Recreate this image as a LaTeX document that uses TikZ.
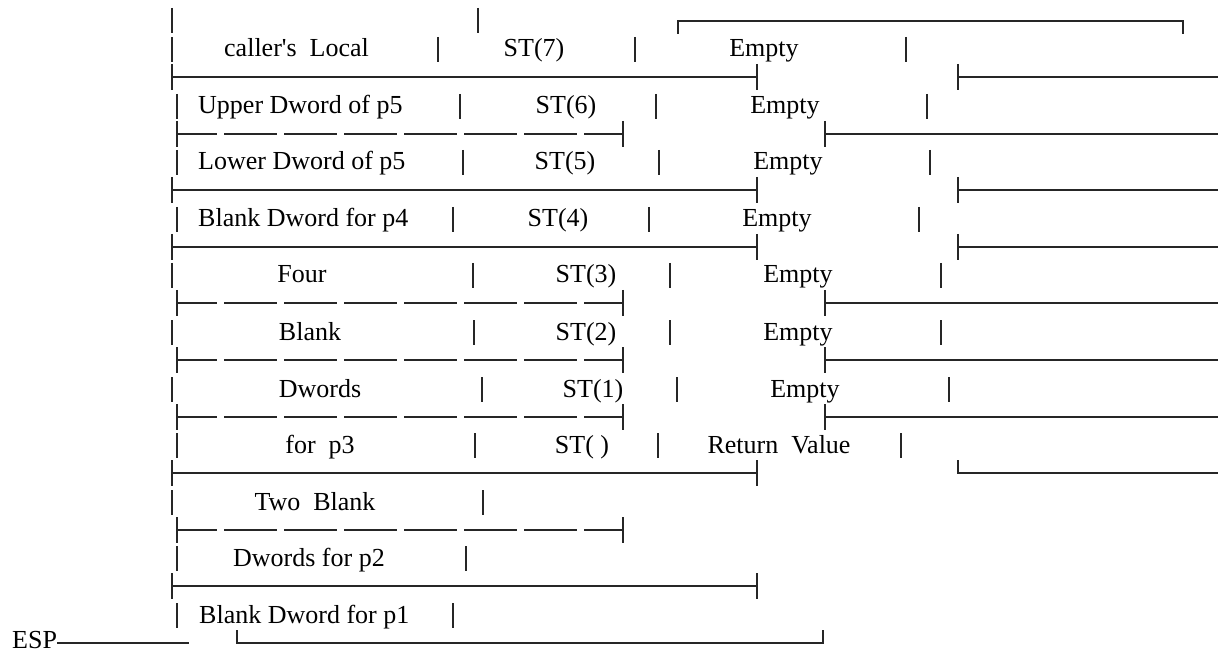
\documentclass[tikz,border=0pt]{standalone}
\usepackage{fontspec}
\newfontfamily\lbfont{Liberation Serif}
\begin{document}
\begin{tikzpicture}[x=1pt,y=-1pt,
  rule/.style={line width=1.8pt, draw=black!85},
  bar/.style={line width=1.5pt, draw=black!85},
  lbl/.style={font={\lbfont\fontsize{26}{30}\selectfont}, inner sep=0pt, anchor=base, text=black},
  lblw/.style={lbl, anchor=base west},
  dashseg/.style={rule, dash pattern=on 53pt off 7pt, dash phase=13pt}]
\useasboundingbox (0,0) rectangle (1218,652);

% vertical cell walls: \vb{x}{baseline}
\newcommand\vb[2]{\draw[bar] (#1,{#2-20}) -- (#1,{#2+5});}
% solid row separator with tee ends
\newcommand\solidsep[1]{%
  \draw[rule] (172,{#1-13}) -- (172,{#1+13}) (172,#1) -- (757,#1) (757,{#1-13}) -- (757,{#1+13});}
% dashed row separator with tee ends
\newcommand\dashsep[1]{%
  \draw[rule] (177,{#1-13}) -- (177,{#1+13}) (623,{#1-13}) -- (623,{#1+13});
  \draw[dashseg] (177,#1) -- (623,#1);}
% right-hand separator running off to the right edge
\newcommand\righttee[2]{%
  \draw[rule] (#1,{#2-13}) -- (#1,{#2+13}) (#1,#2) -- (1218,#2);}

% top edge
\draw[bar] (172,8) -- (172,33);
\draw[bar] (478,8) -- (478,33);
\draw[rule] (678,34) -- (678,21) -- (1183,21) -- (1183,34);

% row 1
\vb{172}{57}\vb{438}{57}\vb{635}{57}\vb{906}{57}
\node[lblw] (r1a) at (224,57) {caller\textquotesingle s\ \ Local};
\node[lbl] (r1b) at (534,57) {ST(7)};
\node[lbl] (r1c) at (764,57) {Empty};
\solidsep{77}\righttee{958}{77}

% row 2
\vb{177}{114}\vb{460}{114}\vb{656}{114}\vb{927}{114}
\node[lblw] (r2a) at (198,114) {Upper Dword of p5};
\node[lbl] (r2b) at (566,114) {ST(6)};
\node[lbl] (r2c) at (785,114) {Empty};
\dashsep{134}\righttee{825}{134}

% row 3
\vb{177}{170}\vb{463}{170}\vb{659}{170}\vb{930}{170}
\node[lblw] (r3a) at (198,170) {Lower Dword of p5};
\node[lbl] (r3b) at (565,170) {ST(5)};
\node[lbl] (r3c) at (788,170) {Empty};
\solidsep{190}\righttee{958}{190}

% row 4
\vb{177}{227}\vb{453}{227}\vb{649}{227}\vb{919}{227}
\node[lblw] (r4a) at (198,227) {Blank Dword for p4};
\node[lbl] (r4b) at (558,227) {ST(4)};
\node[lbl] (r4c) at (777,227) {Empty};
\solidsep{247}\righttee{958}{247}

% row 5
\vb{172}{283}\vb{473}{283}\vb{670}{283}\vb{941}{283}
\node[lbl] (r5a) at (302,283) {Four};
\node[lbl] (r5b) at (586,283) {ST(3)};
\node[lbl] (r5c) at (798,283) {Empty};
\dashsep{303}\righttee{825}{303}

% row 6
\vb{172}{340}\vb{474}{340}\vb{670}{340}\vb{941}{340}
\node[lbl] (r6a) at (310,340) {Blank};
\node[lbl] (r6b) at (586,340) {ST(2)};
\node[lbl] (r6c) at (798,340) {Empty};
\dashsep{360}\righttee{825}{360}

% row 7
\vb{172}{397}\vb{482}{397}\vb{677}{397}\vb{949}{397}
\node[lbl] (r7a) at (320,397) {Dwords};
\node[lbl] (r7b) at (593,397) {ST(1)};
\node[lbl] (r7c) at (805,397) {Empty};
\dashsep{417}\righttee{825}{417}

% row 8
\vb{177}{453}\vb{475}{453}\vb{658}{453}\vb{901}{453}
\node[lbl] (r8a) at (320,453) {for\ \ p3};
\node[lbl] (r8b) at (582,453) {ST( )};
\node[lbl] (r8c) at (779,453) {Return\ \ Value};
\solidsep{473}
\draw[rule] (958,{473-13}) -- (958,473) -- (1218,473);

% row 9
\vb{172}{510}\vb{483}{510}
\node[lbl] (r9a) at (315,510) {Two\ \ Blank};
\dashsep{530}

% row 10
\vb{177}{566}\vb{466}{566}
\node[lbl] (r10a) at (309,566) {Dwords for p2};
\solidsep{586}

% row 11
\vb{177}{623}\vb{453}{623}
\node[lblw] (r11a) at (199,623) {Blank Dword for p1};

% stack pointer and bottom edge
\node[lblw] (esp) at (12,648) {ESP};
\coordinate (espend) at (189,643);
\draw[rule] (esp.base east |- espend) -- (espend);
\draw[rule] (237,630) -- (237,643) -- (823,643) -- (823,630);
\end{tikzpicture}
\end{document}
